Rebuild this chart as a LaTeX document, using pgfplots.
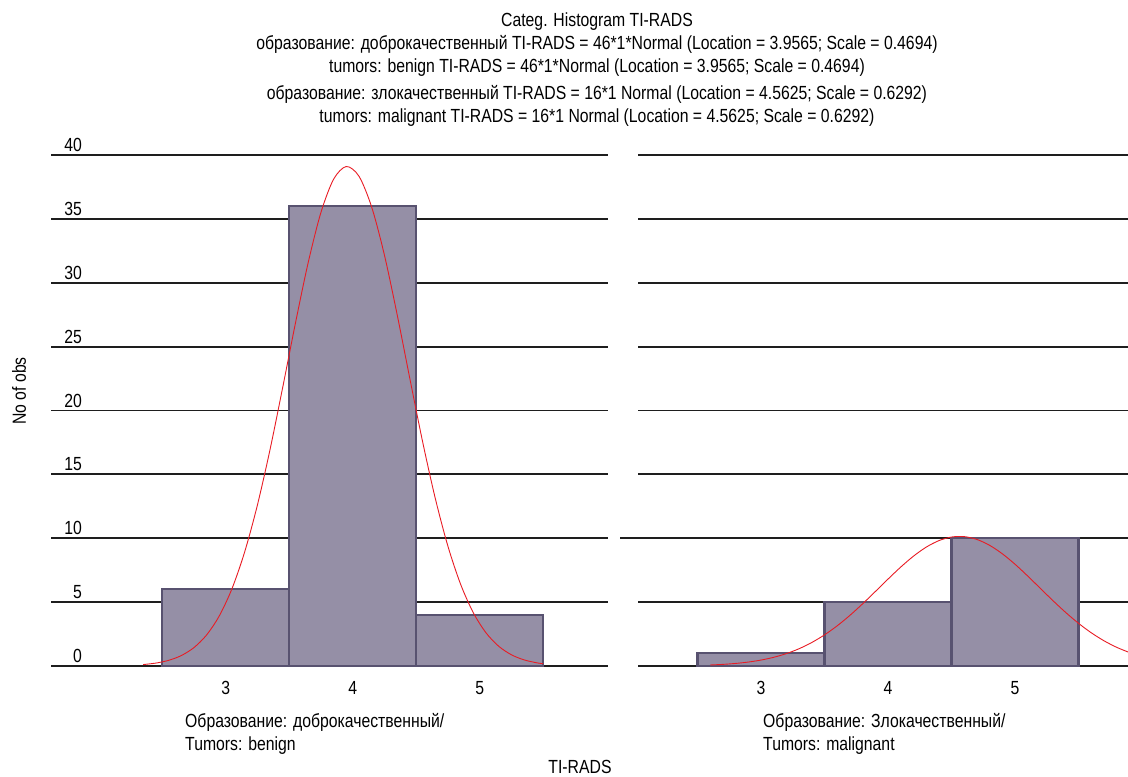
\documentclass[border=0pt]{standalone}
\usepackage{pgfplots}
\pgfplotsset{compat=1.18}
\usepackage{fontspec}
\setmainfont{Liberation Sans}[FakeStretch=0.83]
\definecolor{barfill}{RGB}{149,143,166}
\definecolor{bardraw}{RGB}{88,82,112}
\definecolor{gridc}{RGB}{30,30,30}
\definecolor{curvec}{RGB}{232,28,36}
\newcommand{\fs}{\fontsize{19}{21}\selectfont}
\pgfplotsset{panel/.style={
  scale only axis, height=511pt, ymin=0, ymax=40, ytick={0,5,...,40}, xtick={3,4,5},
  axis line style={draw=none}, major tick length=0pt, ymajorgrids,
  grid style={line width=1.8pt, gridc},
  tick label style={font=\fs},
  /pgf/number format/assume math mode=true,
  yticklabel style={anchor=south east, inner sep=0pt, xshift=31pt, yshift=3pt},
  xticklabel style={anchor=base, inner sep=0pt, yshift=-28pt},
  clip=false, anchor=south west,
}}
\begin{document}
\begin{tikzpicture}
\path[use as bounding box] (0pt,0pt) rectangle (1128pt,777pt);
% left panel
\begin{axis}[panel, at={(51pt,111pt)}, width=557pt, xmin=1.625, xmax=6.01]
\addplot[ybar, bar width=1, fill=barfill, draw=bardraw, line width=2.2pt] coordinates {(3,6) (4,36) (5,4)};
\addplot[curvec, line width=0.9pt, smooth] coordinates {
(2.35,0.112) (2.45,0.227) (2.55,0.439) (2.65,0.813) (2.75,1.437) (2.85,2.430) (2.95,3.925)
(3.05,6.058) (3.15,8.94) (3.25,12.60) (3.35,16.97) (3.45,21.85) (3.55,26.87) (3.65,31.59)
(3.75,35.50) (3.85,38.11) (3.95,39.10) (4.05,38.33) (4.15,35.91) (4.25,32.16) (4.35,27.51)
(4.45,22.50) (4.55,17.58) (4.65,13.13) (4.75,9.37) (4.85,6.39) (4.95,4.164) (5.05,2.593)
(5.15,1.542) (5.25,0.877) (5.35,0.477) (5.45,0.248) (5.5,0.176)};
\end{axis}
% right panel
\begin{axis}[panel, at={(638pt,111pt)}, width=490pt, xmin=2.031, xmax=5.89, yticklabels={}]
\addplot[ybar, bar width=1, fill=barfill, draw=bardraw, line width=2.2pt] coordinates {(3,1) (4,5) (5,10)};
\addplot[curvec, line width=0.9pt, smooth] coordinates {
(2.6,0.078) (2.7,0.127) (2.8,0.201) (2.9,0.309) (3.0,0.465) (3.1,0.681) (3.2,0.973)
(3.3,1.355) (3.4,1.841) (3.5,2.438) (3.6,3.149) (3.7,3.965) (3.8,4.868) (3.9,5.828)
(4.0,6.803) (4.1,7.744) (4.2,8.594) (4.3,9.300) (4.4,9.812) (4.5,10.095) (4.6,10.127)
(4.7,9.906) (4.8,9.447) (4.9,8.786) (5.0,7.967) (5.1,7.044) (5.2,6.072) (5.3,5.104)
(5.4,4.184) (5.5,3.344) (5.6,2.605) (5.7,1.979) (5.8,1.466) (5.9,1.059)};
\draw[gridc, line width=1.8pt] (axis cs:1.89,10) -- (axis cs:2.031,10);
\end{axis}
% titles
\node[anchor=base, inner sep=0pt, font=\fs] at (597pt,750pt) {Categ. Histogram TI-RADS};
\node[anchor=base, inner sep=0pt, font=\fs] at (597pt,727pt) {образование: доброкачественный TI-RADS = 46*1*Normal (Location = 3.9565; Scale = 0.4694)};
\node[anchor=base, inner sep=0pt, font=\fs] at (597pt,704pt) {tumors: benign TI-RADS = 46*1*Normal (Location = 3.9565; Scale = 0.4694)};
\node[anchor=base, inner sep=0pt, font=\fs] at (597pt,677pt) {образование: злокачественный TI-RADS = 16*1 Normal (Location = 4.5625; Scale = 0.6292)};
\node[anchor=base, inner sep=0pt, font=\fs] at (597pt,654pt) {tumors: malignant TI-RADS = 16*1 Normal (Location = 4.5625; Scale = 0.6292)};
% sub labels
\node[anchor=base west, inner sep=0pt, font=\fs] at (185pt,49pt) {Образование: доброкачественный/};
\node[anchor=base west, inner sep=0pt, font=\fs] at (185pt,27pt) {Tumors: benign};
\node[anchor=base west, inner sep=0pt, font=\fs] at (763pt,49pt) {Образование: Злокачественный/};
\node[anchor=base west, inner sep=0pt, font=\fs] at (763pt,27pt) {Tumors: malignant};
\node[anchor=base, inner sep=0pt, font=\fs] at (580pt,3pt) {TI-RADS};
\node[rotate=90, inner sep=0pt, font=\fs] at (19pt,386pt) {No of obs};
\end{tikzpicture}
\end{document}
